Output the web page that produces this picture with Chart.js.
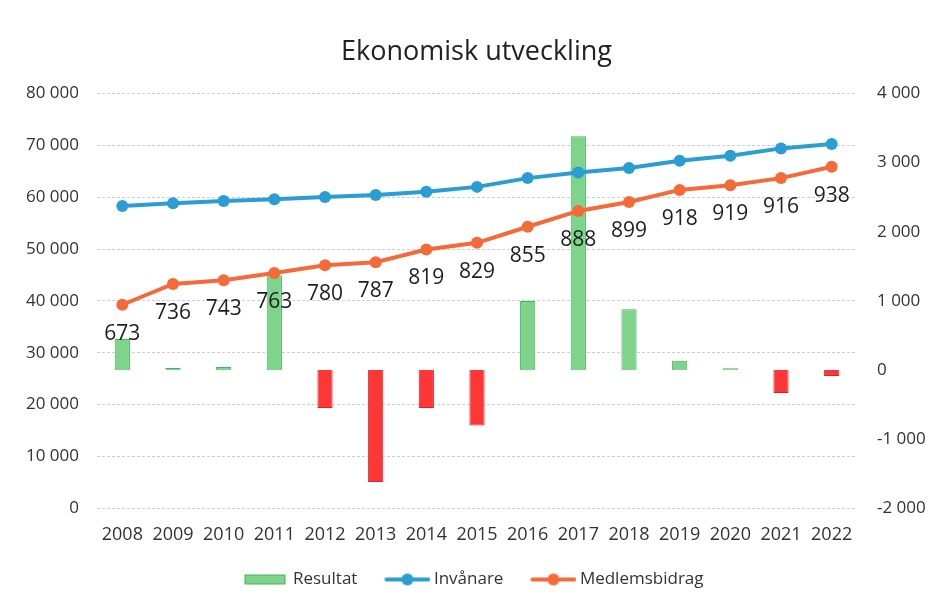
<!DOCTYPE html>
<html>
<head>
<meta charset="utf-8">
<script src="https://cdn.jsdelivr.net/npm/chart.js@4/dist/chart.umd.min.js"></script>
<style>
  html, body { margin: 0; padding: 0; background: #fff; }
  #wrap { width: 931px; height: 605px; position: relative; }
</style>
</head>
<body>
<div id="wrap"><canvas id="c" width="931" height="605"></canvas></div>
<script>
const years = ['2008','2009','2010','2011','2012','2013','2014','2015','2016','2017','2018','2019','2020','2021','2022'];
const resultat = [450, 30, 45, 1370, -550, -1620, -550, -800, 1000, 3380, 880, 135, 25, -330, -85];
const invanare = [58300, 58830, 59270, 59600, 60050, 60430, 61020, 61980, 63670, 64760, 65600, 67020, 67990, 69400, 70250];
const medlemsbidrag = [39260, 43260, 43970, 45390, 46880, 47460, 49910, 51200, 54300, 57340, 59080, 61400, 62310, 63670, 65860];
const perCapita = [673, 736, 743, 763, 780, 787, 819, 829, 855, 888, 899, 918, 919, 916, 938];
const leftTicks = [0, 10000, 20000, 30000, 40000, 50000, 60000, 70000, 80000];
const rightTicks = [-2000, -1000, 0, 1000, 2000, 3000, 4000];

const FONT = '"Open Sans", Lato, sans-serif';
const BLUE = '#2a9dd2';
const ORANGE = '#f46a38';
const GREEN = '#7dd48a';
const GREEN_B = '#45b561';
const RED = '#ff3636';
const RED_B = '#d8222c';

function fmt(v) {
  const s = Math.abs(v).toString().replace(/\B(?=(\d{3})+(?!\d))/g, ' ');
  return (v < 0 ? '-' : '') + s;
}

// legend icons: canvas 69 wide, centred on a 59 px slot
function legendIcon(kind, color) {
  const cv = document.createElement('canvas');
  cv.width = 69; cv.height = 14;
  const g = cv.getContext('2d');
  if (kind === 'box') {
    g.fillStyle = GREEN; g.fillRect(24, 2, 41, 10);
    g.strokeStyle = GREEN_B; g.lineWidth = 1; g.strokeRect(24.5, 2.5, 40, 9);
  } else {
    g.strokeStyle = color; g.lineWidth = 4; g.lineCap = 'round';
    g.beginPath(); g.moveTo(25, 7); g.lineTo(67, 7); g.stroke();
    g.fillStyle = color; g.beginPath(); g.arc(46, 7, 6, 0, Math.PI * 2); g.fill();
  }
  return cv;
}
const icons = [legendIcon('box'), legendIcon('line', BLUE), legendIcon('line', ORANGE)];

const labelPlugin = {
  id: 'perCapitaLabels',
  afterDatasetsDraw(chart) {
    const meta = chart.getDatasetMeta(2);
    const ctx = chart.ctx;
    ctx.save();
    ctx.font = '21px ' + FONT;
    ctx.fillStyle = '#1e1e1e';
    ctx.textAlign = 'center';
    ctx.textBaseline = 'middle';
    meta.data.forEach((pt, i) => {
      ctx.fillText(String(perCapita[i]), pt.x, pt.y + 29);
    });
    ctx.restore();
  }
};

const legendShift = {
  id: 'legendShift',
  afterLayout(chart) {
    if (chart.legend) { chart.legend.left -= 12; chart.legend.right -= 12; }
  }
};

new Chart(document.getElementById('c'), {
  data: {
    labels: years,
    datasets: [
      {
        type: 'bar', label: 'Resultat', data: resultat, yAxisID: 'yR', order: 3,
        backgroundColor: resultat.map(v => v >= 0 ? GREEN : RED),
        borderColor: resultat.map(v => v >= 0 ? GREEN_B : RED_B),
        borderWidth: 1, barPercentage: 0.3, categoryPercentage: 1
      },
      {
        type: 'line', label: 'Invånare', data: invanare, yAxisID: 'yL', order: 1,
        borderColor: BLUE, backgroundColor: BLUE, borderWidth: 4,
        pointRadius: 6, pointBackgroundColor: BLUE, pointBorderColor: BLUE, pointBorderWidth: 0, tension: 0
      },
      {
        type: 'line', label: 'Medlemsbidrag', data: medlemsbidrag, yAxisID: 'yL', order: 2,
        borderColor: ORANGE, backgroundColor: ORANGE, borderWidth: 4,
        pointRadius: 6, pointBackgroundColor: ORANGE, pointBorderColor: ORANGE, pointBorderWidth: 0, tension: 0
      }
    ]
  },
  options: {
    responsive: false,
    animation: false,
    layout: { padding: { left: 22, right: 0, top: 0, bottom: 7 } },
    scales: {
      x: {
        grid: { display: false, drawTicks: false },
        border: { display: false },
        ticks: { font: { family: FONT, size: 18 }, color: '#333', padding: 16 }
      },
      yL: {
        position: 'left', min: 0, max: 80000,
        afterBuildTicks(s) { s.ticks = leftTicks.map(v => ({ value: v })); },
        afterFit(s) { s.width = 75; },
        grid: { color: '#cfcfcf', lineWidth: 1, drawTicks: false },
        border: { display: false, dash: [3, 2] },
        ticks: { font: { family: FONT, size: 17 }, color: '#333', padding: 18, callback: v => fmt(v) }
      },
      yR: {
        position: 'right', min: -2000, max: 4000,
        afterBuildTicks(s) { s.ticks = rightTicks.map(v => ({ value: v })); },
        afterFit(s) { s.width = 74; },
        grid: { display: false, drawTicks: false },
        border: { display: false },
        ticks: { font: { family: FONT, size: 17 }, color: '#333', padding: 20, callback: v => fmt(v) }
      }
    },
    plugins: {
      title: {
        display: true, text: 'Ekonomisk utveckling', color: '#222',
        font: { family: FONT, size: 27, weight: 'normal' },
        padding: { top: 36, bottom: 25 }
      },
      legend: {
        position: 'bottom',
        labels: {
          font: { family: FONT, size: 17 }, color: '#333',
          usePointStyle: true, pointStyleWidth: 59, padding: 9,
          sort: (a, b) => a.datasetIndex - b.datasetIndex,
          generateLabels(chart) {
            const items = Chart.defaults.plugins.legend.labels.generateLabels(chart);
            items.forEach(it => { it.pointStyle = icons[it.datasetIndex]; });
            return items;
          }
        }
      },
      tooltip: { enabled: false }
    }
  },
  plugins: [labelPlugin, legendShift]
});
</script>
</body>
</html>
